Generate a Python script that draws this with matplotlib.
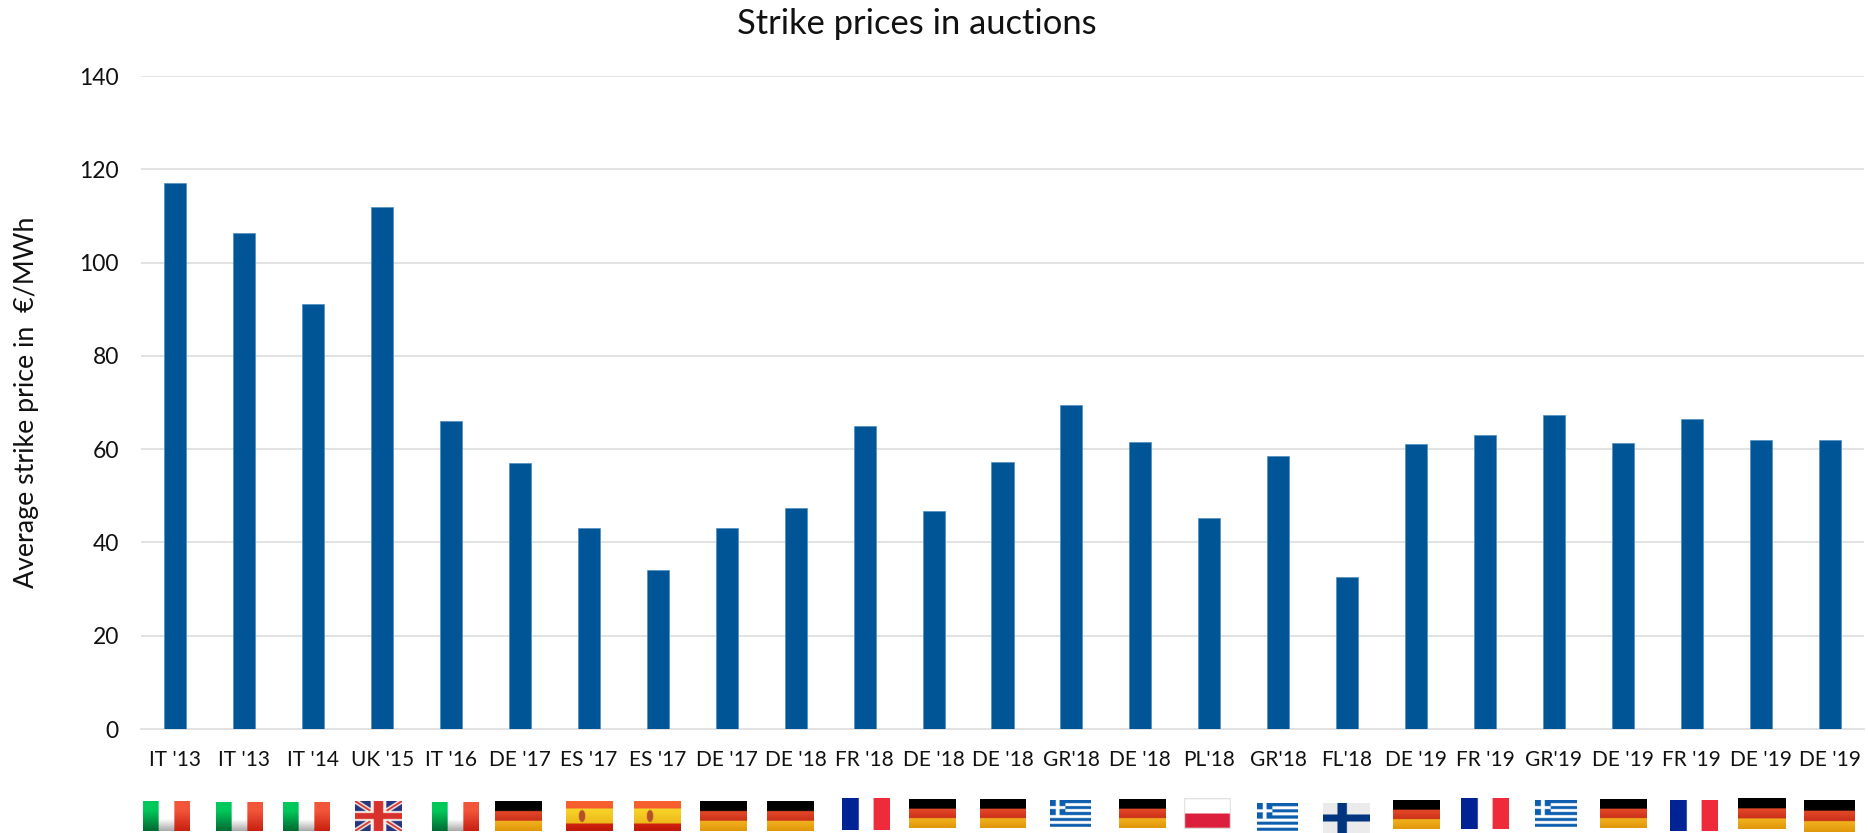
import matplotlib
matplotlib.use('Agg')
import matplotlib.pyplot as plt
import numpy as np

plt.rcParams['font.family'] = ['Lato', 'DejaVu Sans']

W, H = 1868, 833

labels = ["IT '13", "IT '13", "IT '14", "UK '15", "IT '16", "DE '17", "ES '17", "ES '17",
          "DE '17", "DE '18", "FR '18", "DE '18", "DE '18", "GR'18", "DE '18", "PL'18",
          "GR'18", "FL'18", "DE '19", "FR '19", "GR'19", "DE '19", "FR '19", "DE '19", "DE '19"]
prices = [117, 106.4, 91.2, 112, 66, 57, 43, 34, 43, 47.3, 65, 46.7, 57.3, 69.5, 61.6,
          45.3, 58.6, 32.5, 61.2, 63, 67.3, 61.3, 66.5, 62, 62]
yticks = [0, 20, 40, 60, 80, 100, 120, 140]

flags = ['IT', 'IT', 'IT', 'UK', 'IT', 'DE', 'ES', 'ES', 'DE', 'DE', 'FR', 'DE', 'DE', 'GR', 'DE',
         'PL', 'GR', 'FI', 'DE', 'FR', 'GR', 'DE', 'FR', 'DE', 'DE']
# flag boxes in image pixels: left, right, top, bottom
flag_boxes = [(143, 190, 801, 831), (216, 263, 802, 831), (283, 330, 802, 831), (355, 402, 801, 831),
              (432, 479, 802, 831), (495, 542, 801, 831), (566, 613, 801, 831), (634, 681, 801, 831),
              (700, 747, 801, 831), (767, 814, 801, 831), (842, 890, 798, 830), (909, 956, 799, 828),
              (980, 1026, 799, 828), (1050, 1091, 800, 827), (1119, 1166, 799, 828), (1184, 1231, 798, 829),
              (1257, 1298, 803, 831), (1323, 1370, 803, 833), (1393, 1440, 800, 829), (1461, 1509, 798, 829),
              (1535, 1577, 800, 827), (1600, 1647, 799, 828), (1670, 1718, 800, 831), (1738, 1786, 798, 829),
              (1804, 1855, 800, 832)]


def hexrgb(c):
    return np.array(matplotlib.colors.to_rgb(c))


def vgrad(v, top, bottom):
    t = v[..., None]
    return hexrgb(top) * (1 - t) + hexrgb(bottom) * t


def make_flag(code, n=120):
    v, u = np.mgrid[0:1:complex(0, n), 0:1:complex(0, n)]
    img = np.ones((n, n, 3))
    if code == 'IT':
        fade = np.clip((v - 0.6) / 0.4, 0, 1)
        img = vgrad(fade, '#ffffff', '#a8a8a8')
        mid = np.clip((v - 0.3) / 0.7, 0, 1)
        img[u < 1 / 3] = vgrad(mid, '#00c85a', '#006a32')[u < 1 / 3]
        img[u > 2 / 3] = vgrad(mid, '#f2553a', '#c8200f')[u > 2 / 3]
    elif code == 'DE':
        img[:] = hexrgb('#000000')
        band = (v >= 0.33) & (v < 0.66)
        img[band] = vgrad((v - 0.33) / 0.33, '#e64a28', '#c9301a')[band]
        band = v >= 0.66
        img[band] = vgrad((v - 0.66) / 0.34, '#f2b21e', '#e0960a')[band]
    elif code == 'ES':
        img = vgrad(v, '#f8622f', '#f0482a')
        band = (v >= 0.25) & (v < 0.75)
        img[band] = vgrad((v - 0.25) / 0.5, '#f7d52a', '#edb81a')[band]
        band = v >= 0.75
        img[band] = vgrad((v - 0.75) / 0.25, '#d0220e', '#bd1808')[band]
        crest = ((u - 0.34) / 0.07) ** 2 + ((v - 0.5) / 0.2) ** 2 < 1
        img[crest] = hexrgb('#b5502a')
    elif code == 'FR':
        img[u < 0.35] = hexrgb('#002395')
        img[u > 0.66] = hexrgb('#ef2b3b')
    elif code == 'PL':
        img[v >= 0.5] = hexrgb('#dc1f3c')
        edge = (u < 0.025) | (u > 0.975) | (v < 0.035) | (v > 0.965)
        img[edge] = hexrgb('#e2e2e2')
    elif code == 'GR':
        blue = hexrgb('#0d5eaf')
        stripe = (np.floor(v * 9).astype(int) % 2) == 0
        img[stripe] = blue
        canton = (u < 0.37) & (v < 5 / 9)
        img[canton] = blue
        cross = canton & ((np.abs(u - 0.185) < 0.05) | (np.abs(v - 2.5 / 9) < 0.055))
        img[cross] = 1
    elif code == 'FI':
        img[:] = hexrgb('#ebebeb')
        img[(np.abs(u - 0.41) < 0.1) | (np.abs(v - 0.5) < 0.12)] = hexrgb('#003580')
    elif code == 'UK':
        img[:] = hexrgb('#27357f')
        d1 = np.abs(u - v)
        d2 = np.abs(u + v - 1)
        img[(d1 < 0.1) | (d2 < 0.1)] = hexrgb('#f4efe9')
        img[(d1 < 0.035) | (d2 < 0.035)] = hexrgb('#d8312c')
        img[(np.abs(u - 0.5) < 0.17) | (np.abs(v - 0.5) < 0.17)] = hexrgb('#f4efe9')
        img[(np.abs(u - 0.5) < 0.1) | (np.abs(v - 0.5) < 0.1)] = hexrgb('#d8312c')
    return img


fig = plt.figure(figsize=(W / 100, H / 100), dpi=100, facecolor='white')

# plot area from the reference: x 141-1864, y 76 (140) to 729 (0)
ax = fig.add_axes([141 / W, 1 - 729 / H, (1864 - 141) / W, (729 - 76) / H])
x = np.arange(len(prices))
ax.bar(x, prices, width=0.32, color='#005596', edgecolor='#4f8fc0', linewidth=0.5, zorder=3)
ax.set_xlim(-0.5, len(prices) - 0.5)
ax.set_ylim(0, 140)
ax.set_yticks(yticks)
ax.set_xticks(x)
ax.set_xticklabels(labels)
ax.tick_params(axis='x', length=0, pad=15, labelsize=15, labelcolor='#111111')
ax.tick_params(axis='y', length=0, pad=16, labelsize=16.5, labelcolor='#111111')
ax.grid(axis='y', color='#e2e2e2', linewidth=1.4, zorder=0)
ax.set_axisbelow(True)
for s in ['top', 'right', 'left']:
    ax.spines[s].set_visible(False)
ax.spines['bottom'].set_color('#e2e2e2')
ax.spines['bottom'].set_linewidth(1.4)

fig.text(917 / W, 1 - 24 / H, 'Strike prices in auctions', ha='center', va='center',
         fontsize=24.8, color='#111111')
fig.text(27 / W, 1 - 402 / H, 'Average strike price in  €/MWh', rotation=90, ha='center', va='center',
         fontsize=19.3, color='#111111')

# flags row under the tick labels
over = fig.add_axes([0, 0, 1, 1], facecolor='none')
for code, (l, r, t, b) in zip(flags, flag_boxes):
    over.imshow(make_flag(code), extent=(l, r, b, t), aspect='auto', interpolation='bilinear', zorder=2)
over.set_xlim(0, W)
over.set_ylim(H, 0)
over.axis('off')

fig.savefig('out.png', dpi=100)
